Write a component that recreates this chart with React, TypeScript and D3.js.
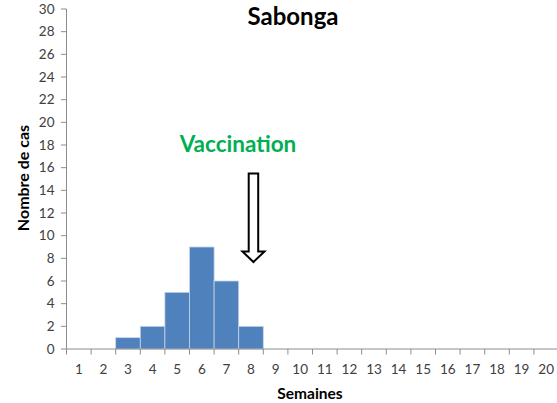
import React from "react";
import * as d3 from "d3";

const weeks = ["1","2","3","4","5","6","7","8","9","10","11","12","13","14","15","16","17","18","19","20"];
const cases = [0,0,1,2,5,9,6,2,0,0,0,0,0,0,0,0,0,0,0,0];
const yTicks = [0,2,4,6,8,10,12,14,16,18,20,22,24,26,28,30];
const vaccinationWeek = "8";

const W = 557, H = 403;
const M = { left: 66.5, right: 558.5, top: 9, bottom: 349 };

export default function App() {
  const x = d3.scaleBand<string>().domain(weeks).range([M.left, M.right]).padding(0);
  const y = d3.scaleLinear().domain([0, 30]).range([M.bottom, M.top]);
  const font = "Lato, 'Open Sans', sans-serif";
  const axisColor = "#8c8c8c";
  const tickColor = "#404040";

  const ax = (x(vaccinationWeek) as number) + x.bandwidth() * 0.6;
  const shaftW = 9.5, headW = 22;
  const top = 173.5, headTop = 251.5, tip = 262;
  const arrowPts = [
    [ax - shaftW / 2, top], [ax + shaftW / 2, top], [ax + shaftW / 2, headTop],
    [ax + headW / 2, headTop], [ax, tip], [ax - headW / 2, headTop], [ax - shaftW / 2, headTop],
  ].map(p => p.join(",")).join(" ");

  return (
    <svg width={W} height={H} style={{ position: "absolute", left: 0, top: 0, background: "#fff" }}>
      {weeks.map((w, i) => cases[i] > 0 ? (
        <rect key={w} x={x(w)} y={y(cases[i])} width={x.bandwidth()} height={y(0) - y(cases[i])}
          fill="#4F81BD" stroke="#c6d4e8" strokeWidth={0.8} />
      ) : null)}
      {/* y axis */}
      <line x1={M.left} x2={M.left} y1={M.top} y2={M.bottom} stroke={axisColor} strokeWidth={1} />
      {yTicks.map(t => (
        <g key={t}>
          <line x1={M.left - 5.5} x2={M.left} y1={y(t)} y2={y(t)} stroke={axisColor} />
          <text x={M.left - 12} y={y(t)} dy="0.35em" textAnchor="end" fontSize={13.5} fontFamily={font} fill={tickColor}>{t}</text>
        </g>
      ))}
      {/* x axis */}
      <line x1={M.left} x2={M.right} y1={M.bottom} y2={M.bottom} stroke={axisColor} />
      {weeks.map(w => (
        <g key={w}>
          <line x1={x(w)} x2={x(w)} y1={M.bottom} y2={M.bottom + 5.5} stroke={axisColor} />
          <text x={(x(w) as number) + x.bandwidth() / 2} y={369} dy="0.35em" textAnchor="middle" fontSize={13.5} fontFamily={font} fill={tickColor}>{w}</text>
        </g>
      ))}
      <text x={293} y={25} textAnchor="middle" fontSize={24} fontWeight="bold" fontFamily={font} fill="#000">Sabonga</text>
      <text x={238} y={152} textAnchor="middle" fontSize={22.5} fontWeight="bold" fontFamily={font} fill="#00B050">Vaccination</text>
      <polygon points={arrowPts} fill="#fff" stroke="#000" strokeWidth={2} strokeLinejoin="miter" />
      <text x={310} y={399} textAnchor="middle" fontSize={15.5} fontWeight="bold" fontFamily={font} fill="#000">Semaines</text>
      <text transform={`translate(29,178) rotate(-90)`} textAnchor="middle" fontSize={16} fontWeight="bold" fontFamily={font} fill="#000">Nombre de cas</text>
    </svg>
  );
}
